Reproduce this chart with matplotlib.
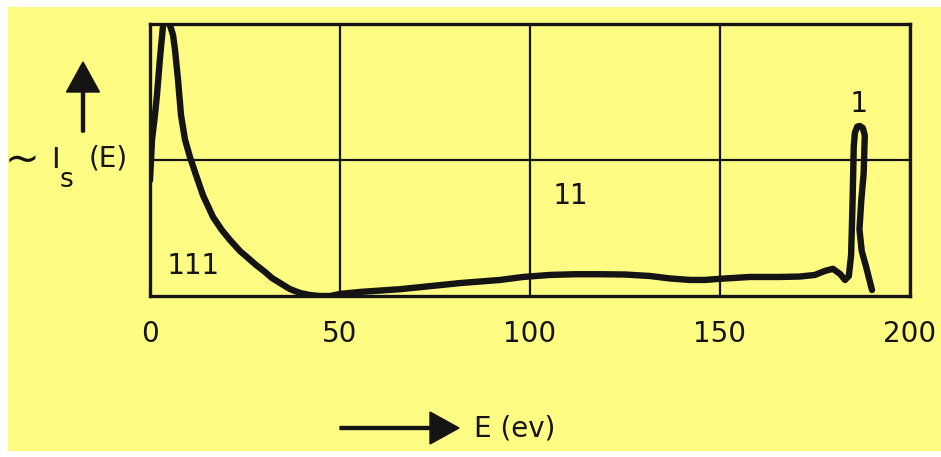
import matplotlib.pyplot as plt
from matplotlib.patches import Rectangle, FancyArrow

# energy (eV) and relative intensity
energy = [0.0, 0.53, 1.3, 1.84, 2.6, 3.4, 4.2, 5.0, 5.26, 6.05, 6.58, 7.37,
          8.16, 9.21, 10.53, 12.1, 13.95, 16.6, 18.9, 21.1, 23.7, 25.5, 27.9,
          30.3, 32.1, 34.2, 36.8, 39.5, 42.1, 44.7, 47.4, 50.0, 55.3, 65.8,
          81.6, 92.1, 98.2, 105.3, 111.8, 118.4, 125.0, 131.6, 136.8, 142.1,
          146.0, 149.2, 157.9, 165.8, 171.0, 175.0, 177.6, 179.7, 181.6, 182.9,
          183.9, 184.5, 184.9, 185.2, 185.5, 186.1, 186.8, 187.6, 188.1, 187.8,
          187.2, 186.7, 187.3, 188.4, 190.0]
intensity = [0.85, 1.15, 1.33, 1.48, 1.74, 1.98, 2.05, 2.05, 1.99, 1.92, 1.81,
             1.59, 1.33, 1.15, 1.02, 0.89, 0.74, 0.58, 0.485, 0.41, 0.33, 0.287,
             0.228, 0.176, 0.132, 0.096, 0.051, 0.022, 0.007, 0.0, 0.0, 0.015,
             0.03, 0.05, 0.095, 0.118, 0.14, 0.155, 0.16, 0.16, 0.158, 0.147,
             0.129, 0.118, 0.118, 0.125, 0.14, 0.14, 0.143, 0.155, 0.184, 0.2,
             0.162, 0.118, 0.147, 0.30, 0.71, 1.10, 1.20, 1.245, 1.25, 1.235,
             1.18, 0.90, 0.71, 0.49, 0.33, 0.22, 0.044]

x_ticks = [0, 50, 100, 150, 200]
region_labels = ['111', '11', '1']
region_pos_e = [11.3, 110.5, 186.3]
region_pos_i = [0.22, 0.735, 1.41]

yellow = '#fffc84'
ink = '#141414'

fig = plt.figure(figsize=(9.41, 4.57), dpi=100, facecolor='white')

# background sheet, drawn in pixel units
bg = fig.add_axes([0, 0, 1, 1], zorder=0)
bg.set_xlim(0, 941)
bg.set_ylim(457, 0)
bg.axis('off')
bg.add_patch(Rectangle((8, 7), 933, 444, facecolor=yellow, edgecolor='none'))

ax = fig.add_axes([150 / 941, 1 - 296 / 457, 760 / 941, 272 / 457], zorder=1)
ax.set_facecolor(yellow)
ax.plot(energy, intensity, color=ink, lw=4.6, solid_capstyle='round',
        solid_joinstyle='round')
ax.set_xlim(0, 200)
ax.set_ylim(0, 2)
ax.set_xticks(x_ticks)
ax.set_yticks([1])
ax.set_yticklabels([])
ax.grid(True, color=ink, lw=1.6)
ax.tick_params(length=0, pad=17, labelsize=20, colors=ink)
for s in ax.spines.values():
    s.set_linewidth(2.4)
    s.set_color(ink)

for lab, xe, yi in zip(region_labels, region_pos_e, region_pos_i):
    ax.text(xe, yi, lab, family='DejaVu Sans Mono', fontsize=21, color=ink,
            ha='center', va='center')

# y axis annotation
bg.add_patch(FancyArrow(83, 132, 0, -40, width=3, head_width=33, head_length=30,
                        length_includes_head=False, color=ink))
bg.text(22, 160, '~', fontsize=30, color=ink, ha='center', va='center')
bg.text(55, 160, 'I', fontsize=21, color=ink, ha='center', va='center')
bg.text(60, 180, 's', fontsize=19, color=ink, ha='left', va='center')
bg.text(108, 158, '(E)', fontsize=20, color=ink, ha='center', va='center')

# x axis annotation
bg.add_patch(FancyArrow(340, 428, 90, 0, width=3, head_width=32, head_length=29,
                        length_includes_head=False, color=ink))
bg.text(474, 428, 'E (ev)', fontsize=20, color=ink, ha='left', va='center')

fig.savefig('out.png', dpi=100, facecolor=fig.get_facecolor())
